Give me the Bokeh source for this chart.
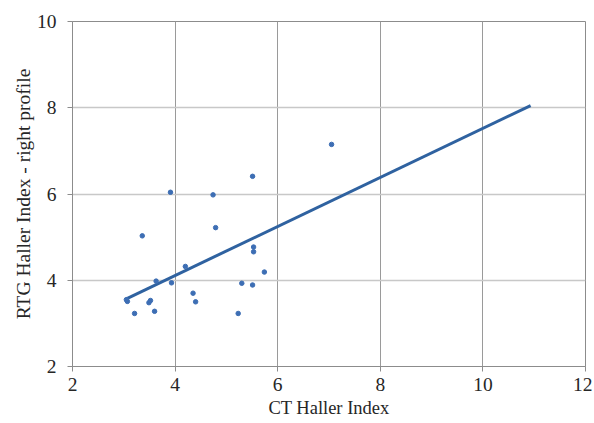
from bokeh.plotting import figure
from bokeh.embed import file_html
from bokeh.resources import INLINE
from bokeh.models import FixedTicker

ct_haller = [3.05, 3.07, 3.21, 3.36, 3.49, 3.52, 3.60, 3.63, 3.91, 3.93, 4.20, 4.35, 4.40,
             4.74, 4.79, 5.23, 5.30, 5.51, 5.51, 5.53, 5.53, 5.74, 7.05]
rtg_haller = [3.55, 3.51, 3.23, 5.03, 3.48, 3.53, 3.28, 3.98, 6.04, 3.94, 4.32, 3.70, 3.50,
              5.98, 5.22, 3.23, 3.93, 6.41, 3.89, 4.77, 4.66, 4.19, 7.15]
trend_x = [3.05, 10.93]
trend_y = [3.57, 8.05]
x_ticks = [2, 4, 6, 8, 10, 12]
y_ticks = [2, 4, 6, 8, 10]

p = figure(width=592, height=420, output_backend="svg", toolbar_location=None,
           x_range=(2, 12), y_range=(2, 10),
           min_border_left=72, min_border_right=7, min_border_top=21, min_border_bottom=52)

p.line(trend_x, trend_y, line_color="#2f62a0", line_width=3)
p.scatter(ct_haller, rtg_haller, size=4.5, color="#3d6eb4")

font = "'Liberation Serif', serif"
for ax in list(p.xaxis) + list(p.yaxis):
    ax.major_label_text_font = font
    ax.major_label_text_font_size = "19.5px"
    ax.major_label_text_color = "#262626"
    ax.axis_label_text_font = font
    ax.axis_label_text_font_style = "normal"
    ax.axis_label_text_color = "#262626"
    ax.axis_line_color = "#8c8c8c"
    ax.major_tick_line_color = "#8c8c8c"
    ax.major_tick_out = 5
    ax.major_tick_in = 0
    ax.minor_tick_line_color = None

p.xaxis.axis_label_text_font_size = "18.5px"
p.yaxis.axis_label_text_font_size = "19.5px"
p.xaxis.major_label_standoff = 6
p.yaxis.major_label_standoff = 11
p.xaxis.axis_label_standoff = 4
p.yaxis.axis_label_standoff = 0

p.xaxis.ticker = FixedTicker(ticks=x_ticks)
p.yaxis.ticker = FixedTicker(ticks=y_ticks)
p.xaxis.axis_label = "CT Haller Index"
p.yaxis.axis_label = "RTG Haller Index - right profile"

p.xgrid.grid_line_color = "#9a9a9a"
p.ygrid.grid_line_color = "#c8c8c8"
p.xgrid.grid_line_width = 1
p.ygrid.grid_line_width = 1.5
p.outline_line_color = "#8c8c8c"
p.background_fill_color = "white"
p.border_fill_color = "white"

open("out.html", "w").write(file_html(p, INLINE))
